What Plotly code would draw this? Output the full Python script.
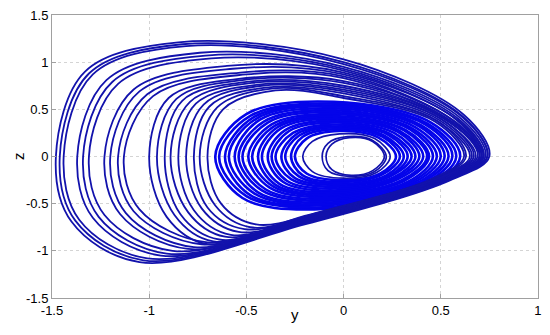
import plotly.graph_objects as go

# phase portrait, y-z projection; each loop is a list of (y, z) points
outer_loops = [
    [(0.75, 0.00), (0.62, 0.44), (0.00, 1.03), (-0.85, 1.21), (-1.33, 0.90), (-1.48, 0.00), (-1.40, -0.69), (-1.05, -1.12), (-0.20, -0.72), (0.55, -0.25), (0.75, 0.00)],
    [(0.74, 0.00), (0.61, 0.43), (0.00, 1.00), (-0.83, 1.19), (-1.31, 0.88), (-1.46, 0.00), (-1.38, -0.68), (-1.03, -1.10), (-0.20, -0.71), (0.54, -0.25), (0.74, 0.00)],
    [(0.74, 0.00), (0.61, 0.42), (0.00, 0.98), (-0.81, 1.17), (-1.29, 0.87), (-1.44, 0.00), (-1.36, -0.67), (-1.01, -1.08), (-0.20, -0.70), (0.54, -0.24), (0.74, 0.00)],
    [(0.73, 0.00), (0.60, 0.41), (0.00, 0.95), (-0.74, 1.10), (-1.22, 0.81), (-1.37, 0.00), (-1.29, -0.65), (-0.94, -1.05), (-0.20, -0.69), (0.53, -0.24), (0.73, 0.00)],
    [(0.72, 0.00), (0.59, 0.40), (0.00, 0.93), (-0.71, 1.07), (-1.19, 0.79), (-1.34, 0.00), (-1.26, -0.64), (-0.91, -1.03), (-0.20, -0.68), (0.52, -0.24), (0.72, 0.00)],
    [(0.71, 0.00), (0.58, 0.39), (0.00, 0.91), (-0.68, 1.04), (-1.16, 0.77), (-1.31, 0.00), (-1.23, -0.62), (-0.88, -1.00), (-0.20, -0.67), (0.52, -0.23), (0.71, 0.00)],
    [(0.72, 0.00), (0.59, 0.38), (0.00, 0.89), (-0.60, 0.96), (-1.08, 0.71), (-1.23, 0.00), (-1.15, -0.61), (-0.80, -0.98), (-0.20, -0.66), (0.52, -0.23), (0.72, 0.00)],
    [(0.70, 0.00), (0.57, 0.37), (0.00, 0.87), (-0.57, 0.93), (-1.05, 0.69), (-1.20, 0.00), (-1.12, -0.60), (-0.77, -0.96), (-0.20, -0.65), (0.51, -0.23), (0.70, 0.00)],
    [(0.71, 0.00), (0.58, 0.36), (0.00, 0.85), (-0.53, 0.89), (-1.01, 0.66), (-1.16, 0.00), (-1.08, -0.58), (-0.73, -0.93), (-0.20, -0.64), (0.51, -0.22), (0.71, 0.00)],
    [(0.69, 0.00), (0.56, 0.35), (0.00, 0.83), (-0.50, 0.87), (-0.98, 0.64), (-1.13, 0.00), (-1.05, -0.56), (-0.70, -0.91), (-0.20, -0.63), (0.50, -0.22), (0.69, 0.00)],
]

mid_loops = [
    [(0.72, 0), (0.52, 0.42), (0, 0.80), (-0.55, 0.82), (-0.90, 0.62), (-1.00, 0), (-0.91, -0.64), (-0.70, -0.93), (-0.20, -0.66), (0.50, -0.24), (0.72, 0)],
    [(0.71, 0), (0.51, 0.41), (0, 0.78), (-0.52, 0.81), (-0.86, 0.61), (-0.96, 0), (-0.87, -0.62), (-0.67, -0.90), (-0.19, -0.65), (0.50, -0.24), (0.71, 0)],
    [(0.70, 0), (0.51, 0.41), (0, 0.75), (-0.50, 0.79), (-0.83, 0.59), (-0.92, 0), (-0.84, -0.61), (-0.64, -0.88), (-0.18, -0.64), (0.49, -0.24), (0.70, 0)],
    [(0.68, 0), (0.50, 0.40), (0, 0.73), (-0.47, 0.78), (-0.79, 0.58), (-0.89, 0), (-0.80, -0.59), (-0.61, -0.85), (-0.16, -0.63), (0.49, -0.24), (0.68, 0)],
    [(0.67, 0), (0.50, 0.40), (0, 0.71), (-0.45, 0.76), (-0.76, 0.56), (-0.85, 0), (-0.77, -0.57), (-0.58, -0.83), (-0.15, -0.62), (0.48, -0.24), (0.67, 0)],
    [(0.66, 0), (0.49, 0.39), (0, 0.69), (-0.42, 0.75), (-0.72, 0.55), (-0.81, 0), (-0.73, -0.55), (-0.54, -0.80), (-0.14, -0.61), (0.48, -0.23), (0.66, 0)],
    [(0.65, 0), (0.48, 0.38), (0, 0.67), (-0.40, 0.73), (-0.69, 0.53), (-0.77, 0), (-0.70, -0.54), (-0.51, -0.77), (-0.13, -0.60), (0.47, -0.23), (0.65, 0)],
    [(0.63, 0), (0.48, 0.38), (0, 0.64), (-0.37, 0.72), (-0.65, 0.52), (-0.74, 0), (-0.66, -0.52), (-0.48, -0.75), (-0.11, -0.59), (0.47, -0.23), (0.63, 0)],
    [(0.62, 0), (0.47, 0.37), (0, 0.62), (-0.35, 0.70), (-0.62, 0.50), (-0.70, 0), (-0.63, -0.50), (-0.45, -0.72), (-0.10, -0.58), (0.46, -0.23), (0.62, 0)],
]

inner_loops = [
    [(0.60, 0), (0.45, 0.36), (-0.05, 0.58), (-0.50, 0.45), (-0.66, 0), (-0.52, -0.44), (-0.15, -0.56), (0.42, -0.33), (0.60, 0)],
    [(0.58, 0), (0.43, 0.35), (-0.05, 0.56), (-0.48, 0.43), (-0.64, 0), (-0.50, -0.42), (-0.14, -0.54), (0.41, -0.32), (0.58, 0)],
    [(0.56, 0), (0.42, 0.34), (-0.05, 0.54), (-0.46, 0.42), (-0.61, 0), (-0.48, -0.41), (-0.13, -0.52), (0.39, -0.31), (0.56, 0)],
    [(0.54, 0), (0.40, 0.33), (-0.04, 0.53), (-0.45, 0.40), (-0.59, 0), (-0.46, -0.39), (-0.12, -0.51), (0.38, -0.30), (0.54, 0)],
    [(0.52, 0), (0.39, 0.32), (-0.04, 0.51), (-0.43, 0.39), (-0.56, 0), (-0.44, -0.38), (-0.11, -0.49), (0.37, -0.29), (0.52, 0)],
    [(0.50, 0), (0.37, 0.31), (-0.04, 0.49), (-0.41, 0.37), (-0.54, 0), (-0.42, -0.36), (-0.11, -0.47), (0.35, -0.29), (0.50, 0)],
    [(0.48, 0), (0.35, 0.30), (-0.04, 0.47), (-0.39, 0.36), (-0.52, 0), (-0.40, -0.35), (-0.10, -0.45), (0.34, -0.28), (0.48, 0)],
    [(0.46, 0), (0.34, 0.29), (-0.04, 0.45), (-0.37, 0.34), (-0.49, 0), (-0.38, -0.33), (-0.09, -0.43), (0.33, -0.27), (0.46, 0)],
    [(0.44, 0), (0.32, 0.28), (-0.04, 0.43), (-0.35, 0.33), (-0.47, 0), (-0.36, -0.32), (-0.08, -0.41), (0.31, -0.26), (0.44, 0)],
    [(0.43, 0), (0.31, 0.28), (-0.03, 0.42), (-0.34, 0.31), (-0.44, 0), (-0.35, -0.30), (-0.07, -0.40), (0.30, -0.25), (0.43, 0)],
    [(0.41, 0), (0.29, 0.27), (-0.03, 0.40), (-0.32, 0.30), (-0.42, 0), (-0.33, -0.29), (-0.06, -0.38), (0.28, -0.24), (0.41, 0)],
    [(0.39, 0), (0.28, 0.26), (-0.03, 0.38), (-0.30, 0.28), (-0.39, 0), (-0.31, -0.27), (-0.05, -0.36), (0.27, -0.23), (0.39, 0)],
    [(0.37, 0), (0.26, 0.25), (-0.03, 0.36), (-0.28, 0.27), (-0.37, 0), (-0.29, -0.26), (-0.04, -0.34), (0.26, -0.22), (0.37, 0)],
    [(0.35, 0), (0.24, 0.24), (-0.03, 0.34), (-0.26, 0.25), (-0.35, 0), (-0.27, -0.24), (-0.04, -0.32), (0.24, -0.21), (0.35, 0)],
    [(0.33, 0), (0.23, 0.23), (-0.02, 0.32), (-0.24, 0.24), (-0.32, 0), (-0.25, -0.23), (-0.03, -0.30), (0.23, -0.21), (0.33, 0)],
    [(0.31, 0), (0.21, 0.22), (-0.02, 0.31), (-0.23, 0.22), (-0.30, 0), (-0.23, -0.21), (-0.02, -0.29), (0.22, -0.20), (0.31, 0)],
    [(0.29, 0), (0.20, 0.21), (-0.02, 0.29), (-0.21, 0.21), (-0.27, 0), (-0.21, -0.20), (-0.01, -0.27), (0.20, -0.19), (0.29, 0)],
    [(0.27, 0), (0.18, 0.20), (-0.02, 0.27), (-0.19, 0.19), (-0.25, 0), (-0.19, -0.18), (0.00, -0.25), (0.19, -0.18), (0.27, 0)],
]

core_loops = [
    [(0.24, 0), (0.16, 0.19), (-0.02, 0.24), (-0.16, 0.16), (-0.21, 0), (-0.16, -0.16), (0.00, -0.23), (0.17, -0.17), (0.24, 0)],
    [(0.22, 0), (0.15, 0.17), (0.02, 0.21), (-0.08, 0.14), (-0.11, 0), (-0.08, -0.15), (0.03, -0.21), (0.16, -0.16), (0.22, 0)],
    [(0.21, 0), (0.15, 0.16), (0.03, 0.20), (-0.06, 0.13), (-0.09, 0), (-0.06, -0.14), (0.04, -0.20), (0.15, -0.15), (0.21, 0)],
]

ticks_y = [-1.5, -1, -0.5, 0, 0.5, 1]
ticks_z = [-1.5, -1, -0.5, 0, 0.5, 1, 1.5]

navy = '#1212ac'
blue = '#0404ea'


def to_xy(loops):
    xs, ys = [], []
    for lp in loops:
        xs += [p[0] for p in lp] + [None]
        ys += [p[1] for p in lp] + [None]
    return xs, ys


fig = go.Figure()
for loops, col, w in [(inner_loops, blue, 2.6), (mid_loops, navy, 1.8), (outer_loops, navy, 1.8), (core_loops, navy, 1.7)]:
    xs, ys = to_xy(loops)
    fig.add_trace(go.Scatter(x=xs, y=ys, mode='lines', showlegend=False, hoverinfo='skip',
                             line=dict(color=col, width=w, shape='spline', smoothing=1)))

axis_style = dict(showline=True, mirror=True, linecolor='#a0a0a0', linewidth=1,
                  ticks='inside', ticklen=4, tickcolor='#a0a0a0',
                  showgrid=True, gridcolor='#d4d4d4', griddash='dot', gridwidth=1,
                  zeroline=False, tickfont=dict(family='Liberation Sans, Arial', size=13, color='black'))

fig.update_layout(
    width=550, height=335,
    margin=dict(l=52, r=8, t=8, b=37),
    paper_bgcolor='white', plot_bgcolor='white',
    xaxis=dict(range=[-1.5, 1.0005], tickvals=ticks_y, ticktext=[str(v) for v in ticks_y], **axis_style),
    yaxis=dict(range=[-1.5, 1.5], tickvals=ticks_z, ticktext=[str(v) for v in ticks_z], **axis_style),
    annotations=[
        dict(text='y', xref='paper', yref='paper', x=0.5, y=0, yshift=-27, showarrow=False,
             font=dict(family='Liberation Sans, Arial', size=15, color='black')),
        dict(text='z', xref='paper', yref='paper', x=0, y=0.5, xshift=-44, textangle=-90, showarrow=False,
             font=dict(family='Liberation Sans, Arial', size=15, color='black')),
    ],
)

# the page body has an 8px default margin; drop it so the figure sits at the window corner
fig.write_html("out.html", config={'displayModeBar': False},
               post_script="document.body.style.margin='0px';")
